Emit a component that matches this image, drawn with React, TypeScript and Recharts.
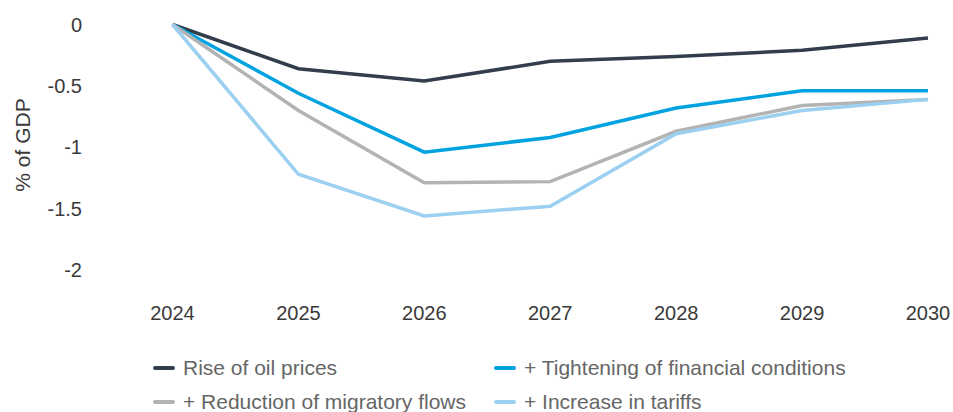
import React from 'react';
import { LineChart, Line, XAxis, YAxis, Legend } from 'recharts';

const years = ['2024', '2025', '2026', '2027', '2028', '2029', '2030'];
const oilPrices = [0, -0.36, -0.46, -0.3, -0.26, -0.21, -0.11];
const financialConditions = [0, -0.56, -1.04, -0.92, -0.68, -0.54, -0.54];
const migratoryFlows = [0, -0.7, -1.29, -1.28, -0.87, -0.66, -0.61];
const tariffs = [0, -1.22, -1.56, -1.48, -0.89, -0.7, -0.61];
const yTicks = [0, -0.5, -1, -1.5, -2];

const series = [
  { key: 'oil', name: 'Rise of oil prices', color: '#333e4c' },
  { key: 'fin', name: '+ Tightening of financial conditions', color: '#00a3e0' },
  { key: 'mig', name: '+ Reduction of migratory flows', color: '#b3b3b3' },
  { key: 'tar', name: '+ Increase in tariffs', color: '#9bd0f0' },
];

const data = years.map((year, i) => ({
  year,
  oil: oilPrices[i],
  fin: financialConditions[i],
  mig: migratoryFlows[i],
  tar: tariffs[i],
}));

const FONT = '"Liberation Sans", Arial, Helvetica, sans-serif';

function LegendGrid() {
  return (
    <div
      style={{
        display: 'grid',
        gridTemplateColumns: '341px 400px',
        gridAutoRows: '34px',
        fontFamily: FONT,
        fontSize: 21,
        color: '#666',
      }}
    >
      {series.map((s) => (
        <div key={s.key} style={{ display: 'flex', alignItems: 'center' }}>
          <span
            style={{
              display: 'inline-block',
              flexShrink: 0,
              width: 22,
              height: 4,
              borderRadius: 2,
              background: s.color,
              marginRight: 8,
            }}
          />
          <span style={{ whiteSpace: 'nowrap' }}>{s.name}</span>
        </div>
      ))}
    </div>
  );
}

export default function App() {
  return (
    <div style={{ width: 953, height: 412 }}>
      <style>{'body { margin: 0; overflow: hidden; }'}</style>
      <LineChart
        width={953}
        height={412}
        data={data}
        margin={{ top: 24.5, right: 25, left: 0, bottom: 81.3 }}
      >
        <XAxis
          dataKey="year"
          axisLine={false}
          tickLine={false}
          tickSize={0}
          tickMargin={5}
          height={30}
          interval={0}
          tick={{ fill: '#3a3a3a', fontSize: 20, fontFamily: FONT }}
        />
        <YAxis
          domain={[-2.25, 0]}
          ticks={yTicks}
          axisLine={false}
          tickLine={false}
          tickSize={0}
          tickMargin={90.5}
          width={172.5}
          tick={{ fill: '#3a3a3a', fontSize: 20, fontFamily: FONT }}
          label={{
            content: () => (
              <text
                x={22}
                y={145}
                transform="rotate(-90, 22, 145)"
                textAnchor="middle"
                dominantBaseline="central"
                fill="#3a3a3a"
                fontSize={21}
                fontFamily={FONT}
              >
                % of GDP
              </text>
            ),
          }}
        />
        <Legend
          verticalAlign="middle"
          align="center"
          content={() => <LegendGrid />}
          wrapperStyle={{ top: 351, left: 153, width: 760 }}
        />
        {series.map((s) => (
          <Line
            key={s.key}
            type="linear"
            dataKey={s.key}
            name={s.name}
            stroke={s.color}
            strokeWidth={3.5}
            dot={false}
            activeDot={false}
            isAnimationActive={false}
          />
        ))}
      </LineChart>
    </div>
  );
}
